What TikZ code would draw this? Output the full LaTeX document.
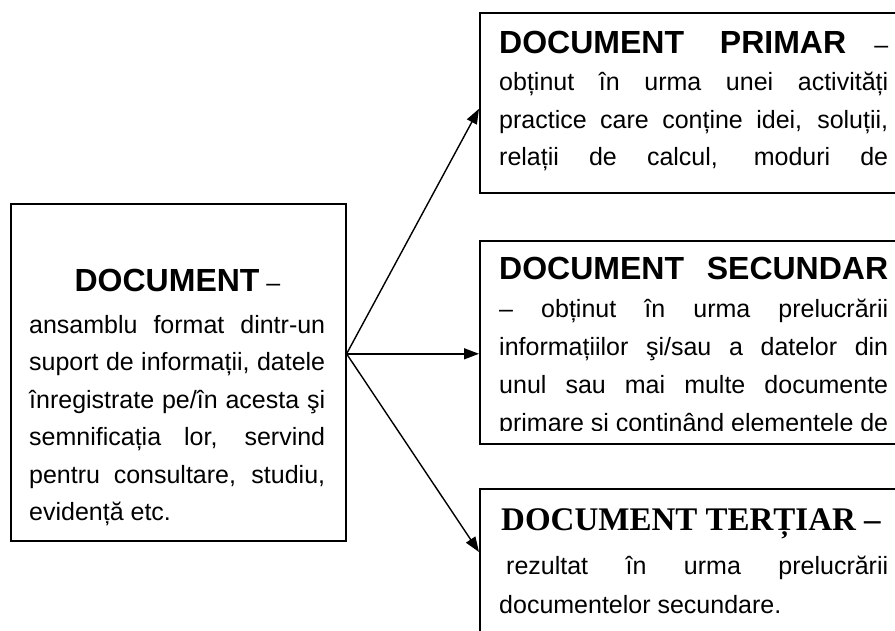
\documentclass[tikz,border=0pt]{standalone}
\usepackage{fontspec}
\setmainfont{Liberation Sans}
\newfontfamily\serifhead{Liberation Serif}
\usetikzlibrary{arrows.meta}

\newcommand\bodysize{\fontsize{25}{37.5}\selectfont\hbadness=10000 }
\newcommand\secsize{\fontsize{25}{38}\selectfont\hbadness=10000 }
\newcommand\tertsize{\fontsize{25}{39}\selectfont\hbadness=10000 }
\newcommand\headsize{\fontsize{32}{37.5}\selectfont\bfseries}
\newcommand\fullline[1]{\makebox[\linewidth][s]{#1}}

\begin{document}
\begin{tikzpicture}[x=1pt,y=-1pt,
    box/.style={draw,line width=1.6pt,anchor=north west,inner sep=0pt},
    para/.style={anchor=base west,inner sep=0pt,text width=389pt,align=justify,font=\bodysize},
    link/.style={line width=1.4pt,-{Triangle[length=15pt,width=11pt]}}]
    \clip (0,0) rectangle (895,630);

    \node[box,minimum width=335pt,minimum height=337pt] (doc) at (10,203) {};
    \node[box,minimum width=440pt,minimum height=180pt] (prim) at (479,12) {};
    \node[box,minimum width=440pt,minimum height=203pt] (sec) at (479,240) {};
    \node[box,minimum width=440pt,minimum height=200pt] (tert) at (479,488) {};

    \node[anchor=base,inner sep=0pt,font=\bodysize] (docHead) at (177.5,291)
        {{\headsize DOCUMENT} –};
    \node[para,text width=296pt] (docText) at (29,333)
        {ansamblu format dintr-un\linebreak suport de informații, datele\linebreak
        înregistrate pe/în acesta şi\linebreak semnificația lor, servind\linebreak
        pentru consultare, studiu,\linebreak evidență etc.};

    \node[para] (primText) at (499,53)
        {{\headsize DOCUMENT PRIMAR} –\linebreak
        obținut în urma unei activități\linebreak
        practice care conține idei, soluții,\linebreak
        \fullline{relații de calcul, moduri de}};

    \begin{scope}
        \clip (479,240) rectangle (900,430);
        \node[para,font=\secsize] (secText) at (499,279)
            {{\headsize DOCUMENT SECUNDAR}\linebreak
            – obținut în urma prelucrării\linebreak
            informațiilor şi/sau a datelor din\linebreak
            unul sau mai multe documente\linebreak
            \fullline{primare şi conţinând elementele de}};
    \end{scope}

    \node[anchor=base west,inner sep=0pt,font=\fontsize{33}{39}\selectfont\serifhead\bfseries]
        (tertHead) at (501,530) {DOCUMENT TERȚIAR –};
    \node[para,font=\tertsize] (tertText) at (499,574)
        {\hspace*{7pt}rezultat în urma prelucrării\linebreak documentelor secundare.};

    \coordinate (fork) at ([yshift=18.5pt]doc.east);
    \path[draw,link] (fork) -- ([yshift=-6pt]prim.west);
    \path[draw,link] (fork) -- (sec.west |- fork);
    \path[draw,link] (fork) -- ([yshift=-64pt]tert.north west);

\end{tikzpicture}
\end{document}
